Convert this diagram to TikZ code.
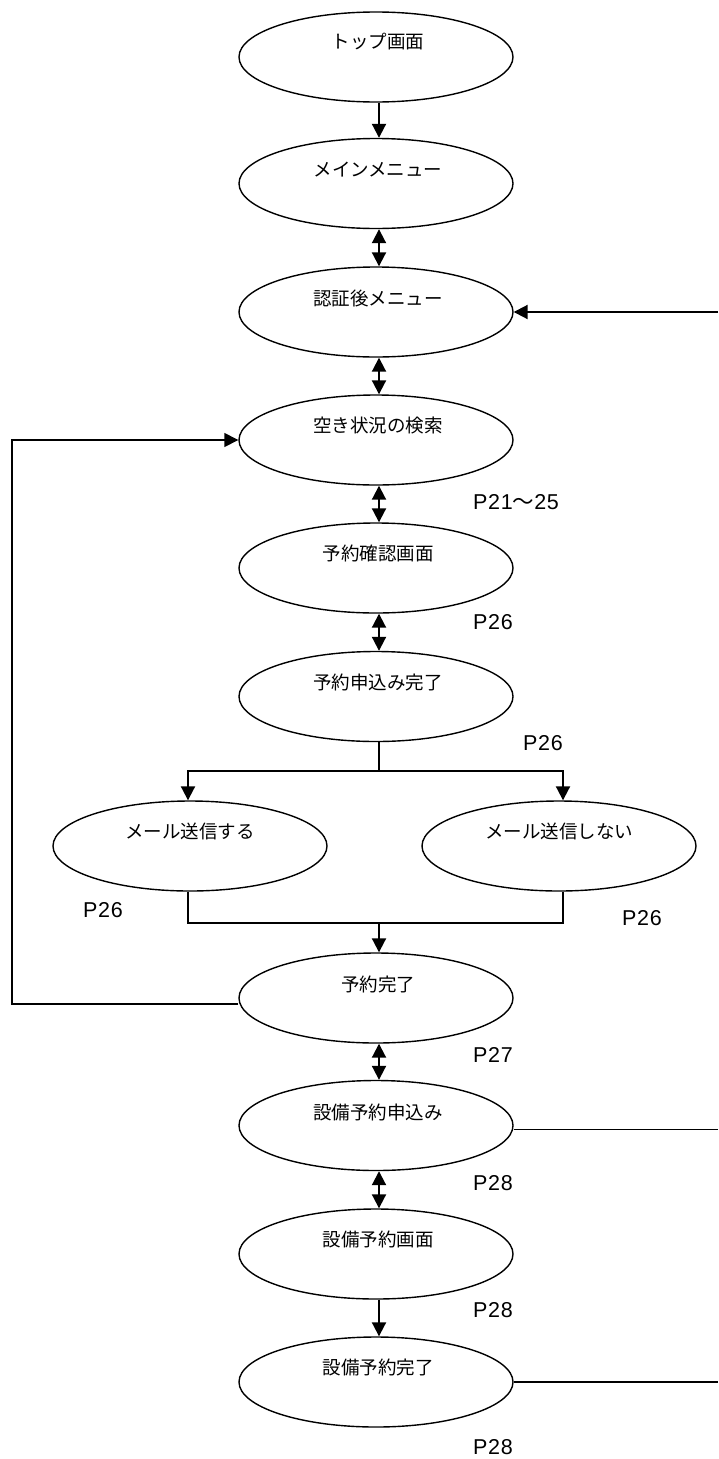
\documentclass[tikz,border=0pt]{standalone}
\usepackage{fontspec}
\setmainfont{Liberation Sans}
\newfontfamily\jpfont{Noto Sans CJK JP}
\newfontfamily\plfont[LetterSpace=3]{Liberation Sans}
\usetikzlibrary{shapes.geometric,arrows.meta}
\begin{document}
\begin{tikzpicture}[x=1pt,y=-1pt,
  state/.style={draw,ellipse,line width=1.4pt,minimum width=274pt,minimum height=90pt,inner sep=0pt},
  stxt/.style={font=\jpfont\fontsize{18.5}{20}\selectfont,inner sep=0pt},
  plabel/.style={font=\plfont\fontsize{21.5}{23}\selectfont,anchor=west,inner sep=0pt},
  conn/.style={line width=2pt},
  thinconn/.style={line width=1.5pt},
  tip/.style={-{Triangle[length=14pt,width=14pt]}},
  dtip/.style={{Triangle[length=14pt,width=14pt]}-{Triangle[length=14pt,width=14pt]}}]
\useasboundingbox (0,0) rectangle (718,1459);
% states
\node[state] (top) at (376,57) {};
\node[state] (main) at (376,183.5) {};
\node[state] (auth) at (376,312) {};
\node[state] (srch) at (376,440) {};
\node[state] (conf) at (376,568) {};
\node[state] (appl) at (376,696.5) {};
\node[state] (mailY) at (190,846) {};
\node[state] (mailN) at (559,846) {};
\node[state] (done) at (376,998) {};
\node[state] (eqap) at (376,1125.5) {};
\node[state] (eqsc) at (376,1254) {};
\node[state] (eqdn) at (376,1382) {};
% texts
\node[stxt] (topT) at (378,42) {トップ画面};
\node[stxt] (mainT) at (378,170) {メインメニュー};
\node[stxt] (authT) at (378,298) {認証後メニュー};
\node[stxt] (srchT) at (378,426) {空き状況の検索};
\node[stxt] (confT) at (378,553) {予約確認画面};
\node[stxt] (applT) at (378,682) {予約申込み完了};
\node[stxt] (mailYT) at (190,831) {メール送信する};
\node[stxt] (mailNT) at (559,831) {メール送信しない};
\node[stxt] (doneT) at (378,984) {予約完了};
\node[stxt] (eqapT) at (378,1112) {設備予約申込み};
\node[stxt] (eqscT) at (378,1239) {設備予約画面};
\node[stxt] (eqdnT) at (378,1367) {設備予約完了};
% page labels
\node[plabel] (p1) at (473,502) {P21{\jpfont ～}25};
\node[plabel] (p2) at (473,622) {P26};
\node[plabel] (p3) at (523,743) {P26};
\node[plabel] (p4) at (83,910) {P26};
\node[plabel] (p5) at (622,918) {P26};
\node[plabel] (p6) at (473,1055) {P27};
\node[plabel] (p7) at (473,1183) {P28};
\node[plabel] (p8) at (473,1310) {P28};
\node[plabel] (p9) at (473,1447) {P28};
% helper coordinates
\coordinate (redge) at (718,0);
\coordinate (ledge) at (12,0);
\coordinate (split) at (379,771);
\coordinate (merge) at (379,923);
% vertical connectors
\draw[conn,tip] ([xshift=3pt]top.south) -- ([xshift=3pt]main.north);
\draw[conn,dtip] ([xshift=3pt]main.south) -- ([xshift=3pt]auth.north);
\draw[conn,dtip] ([xshift=3pt]auth.south) -- ([xshift=3pt]srch.north);
\draw[conn,dtip] ([xshift=3pt]srch.south) -- ([xshift=3pt]conf.north);
\draw[conn,dtip] ([xshift=3pt]conf.south) -- ([xshift=3pt]appl.north);
\draw[thinconn] ([xshift=3pt]appl.south) -- (split);
\draw[conn,tip] (split) -| ([xshift=-2pt]mailY.north);
\draw[conn,tip] (split) -| ([xshift=4pt]mailN.north);
\draw[thinconn] ([xshift=-2pt]mailY.south) |- (merge);
\draw[thinconn] ([xshift=4pt]mailN.south) |- (merge);
\draw[conn,tip] (merge) -- ([xshift=3pt]done.north);
\draw[conn,dtip] ([xshift=3pt]done.south) -- ([xshift=3pt]eqap.north);
\draw[conn,dtip] ([xshift=3pt]eqap.south) -- ([xshift=3pt]eqsc.north);
\draw[conn,tip] ([xshift=3pt]eqsc.south) -- ([xshift=3pt]eqdn.north);
% loop back
\draw[thinconn,tip] ([yshift=-6pt]done.west) -| (ledge |- srch.west) -- (srch.west);
% right edge lines
\draw[conn,tip] (auth.east -| redge) -- (auth.east);
\draw[thinconn] ([yshift=-4pt]eqap.east) -- ([yshift=-4pt]eqap.east -| redge);
\draw[thinconn] (eqdn.east) -- (eqdn.east -| redge);
\end{tikzpicture}
\end{document}
